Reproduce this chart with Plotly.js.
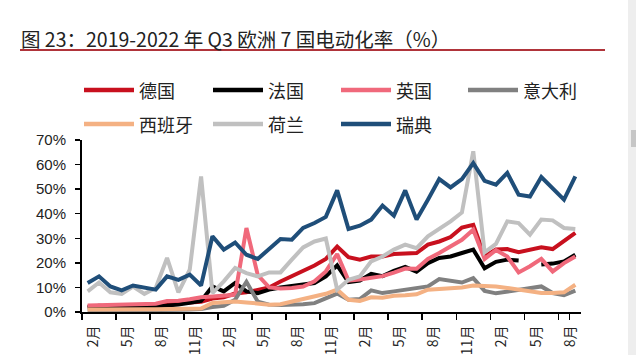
<!DOCTYPE html>
<html><head><meta charset="utf-8">
<script src="https://cdn.plot.ly/plotly-3.0.1.min.js"></script>
<style>html,body{margin:0;padding:0;background:#fff;overflow:hidden}</style>
</head><body><div id="chart" style="width:636px;height:355px"></div>
<script>
const months = [
 '2019-2月','2019-3月','2019-4月','2019-5月','2019-6月','2019-7月','2019-8月','2019-9月','2019-10月','2019-11月','2019-12月',
 '2020-1月','2020-2月','2020-3月','2020-4月','2020-5月','2020-6月','2020-7月','2020-8月','2020-9月','2020-10月','2020-11月','2020-12月',
 '2021-1月','2021-2月','2021-3月','2021-4月','2021-5月','2021-6月','2021-7月','2021-8月','2021-9月','2021-10月','2021-11月','2021-12月',
 '2022-1月','2022-2月','2022-3月','2022-4月','2022-5月','2022-6月','2022-7月','2022-8月','2022-9月'];
const tickMonths = ['2019-2月','2019-5月','2019-8月','2019-11月','2020-2月','2020-5月','2020-8月','2020-11月','2021-2月','2021-5月','2021-8月','2021-11月','2022-2月','2022-5月','2022-8月'];
const tickLabels = ['2月','5月','8月','11月','2月','5月','8月','11月','2月','5月','8月','11月','2月','5月','8月'];
const seriesNames = ['德国','法国','英国','意大利','西班牙','荷兰','瑞典'];

const germany = [2.2,2.4,2.5,2.6,2.7,2.8,2.9,3.3,3.5,3.8,4.2,5.5,6.0,7.5,8.0,9.0,10.0,12.4,14.5,16.7,18.9,21.6,26.6,22.3,21.3,22.6,22.6,23.6,24.0,24.0,27.4,28.7,30.5,34.4,35.5,22.6,25.4,25.6,24.3,25.1,26.3,25.6,28.7,32.2];
const france = [1.8,2.5,2.2,2.0,2.1,2.0,2.2,2.5,3.0,3.8,4.5,10.4,8.4,11.8,8.4,7.7,9.1,10.0,10.7,11.1,11.8,14.5,19.0,12.2,12.8,15.5,14.6,16.7,18.4,16.4,19.9,22.0,22.6,24.0,25.4,17.8,20.4,21.3,21.0,null,19.3,19.7,20.6,23.3];
const uk = [2.6,2.8,2.9,3.0,3.1,3.2,3.4,4.5,4.6,5.2,6.0,6.3,6.5,7.0,34.2,15.0,10.0,9.6,9.8,10.4,12.5,16.5,23.6,12.8,13.2,14.1,14.6,16.0,17.7,17.6,21.6,24.0,26.7,29.4,33.5,21.6,25.2,22.6,16.1,18.6,21.6,16.5,19.9,22.6];
const italy = [0.5,0.5,0.5,0.5,0.6,0.6,0.7,0.8,0.9,1.0,1.2,2.0,2.5,5.0,12.3,4.2,3.0,2.8,2.8,3.2,3.6,5.5,7.5,5.0,5.3,8.8,7.7,8.4,9.1,9.8,10.4,13.4,12.5,12.0,13.8,8.6,7.6,8.4,9.1,9.8,10.4,7.7,6.8,8.7];
const spain = [1.0,1.1,1.0,1.0,1.0,1.1,1.1,1.2,1.3,1.3,1.4,3.7,3.9,4.3,3.9,3.4,3.0,3.2,4.3,5.5,6.2,7.4,9.1,5.0,4.5,6.0,5.8,6.6,6.8,7.2,9.1,9.4,9.4,10.0,10.8,10.8,10.4,9.8,9.1,8.4,7.7,7.7,8.0,11.1];
const netherlands = [8.4,12.0,8.0,7.4,10.4,7.4,9.8,22.0,8.0,17.2,55.2,7.7,12.5,17.9,15.8,14.5,16.1,16.1,21.3,26.3,28.7,29.9,9.1,13.1,14.5,20.6,22.6,25.4,27.4,26.0,30.8,33.8,36.9,40.5,65.4,24.3,27.7,36.9,36.2,31.5,37.6,37.3,34.2,33.8];
const sweden = [11.8,14.5,10.4,8.8,10.8,10.0,9.1,14.5,13.1,15.2,10.8,30.8,25.4,28.3,23.3,21.6,25.6,29.7,29.4,34.2,36.2,38.7,49.5,33.8,35.1,37.6,43.3,39.2,49.5,37.6,45.7,54.1,50.7,54.1,60.6,53.4,51.8,56.6,47.7,47.0,54.9,50.1,45.7,55.2];

const seriesValues = [germany, france, uk, italy, spain, netherlands, sweden];
const colors = ['#c8101e','#000000','#f0697b','#808080','#f4b183','#c0c0c0','#1f4e79'];

const traces = seriesValues.map((vals, k) => ({
  type: 'scatter', mode: 'lines', name: seriesNames[k],
  x: months, y: vals, connectgaps: false,
  line: {color: colors[k], width: 4, shape: 'linear'},
  hoverinfo: 'skip'
}));

// geometry helpers for paper coords (plot area 82..581 x 140..312 px)
const L = 82, T = 140, W = 499, H = 172;
const px = v => (v - L) / W;
const py = v => (T + H - v) / H;

const legendPos = [[84,90],[213,90],[341,90],[468,90],[84,124],[213,124],[341,124]];
const shapes = [];
const annotations = [];
legendPos.forEach((p, k) => {
  shapes.push({type:'line', xref:'paper', yref:'paper', x0: px(p[0]), x1: px(p[0]+50), y0: py(p[1]), y1: py(p[1]),
    line:{color: colors[k], width: 4.5}});
  annotations.push({xref:'paper', yref:'paper', x: px(p[0]+53), y: py(p[1]), xanchor:'left', yanchor:'middle',
    text: seriesNames[k], showarrow:false, font:{family:'Noto Sans CJK SC', size:18, color:'#222'}});
});
// red rule under title
shapes.push({type:'line', xref:'paper', yref:'paper', x0: px(20), x1: px(605), y0: py(50), y1: py(50),
  line:{color:'#b0343a', width: 2}});
// right grey strip (page edge)
shapes.push({type:'rect', xref:'paper', yref:'paper', x0: px(628), x1: px(637), y0: py(0), y1: py(356),
  line:{width:0}, fillcolor:'#eeeeee', layer:'below'});
shapes.push({type:'rect', xref:'paper', yref:'paper', x0: px(631), x1: px(636), y0: py(130), y1: py(147),
  line:{width:0}, fillcolor:'#c6c6c6', layer:'below'});

const layout = {
  width: 636, height: 355,
  margin: {l: L, r: 636 - L - W, t: T, b: 355 - T - H, pad: 0},
  paper_bgcolor: '#ffffff', plot_bgcolor: 'rgba(0,0,0,0)',
  showlegend: false,
  title: {text: '图 23：2019-2022 年 Q3 欧洲 7 国电动化率（%）', xref:'container', yref:'container',
    x: 21/636, xanchor:'left', y: 1 - 40/355, yanchor:'middle',
    font: {family:'Noto Sans CJK SC', size: 19.5, color:'#222'}},
  xaxis: {
    type:'category', categoryorder:'array', categoryarray: months,
    range: [-0.5, months.length - 0.5],
    tickmode:'array', tickvals: tickMonths, ticktext: tickLabels,
    tickson:'boundaries', ticks:'outside', ticklen: 6, tickwidth: 1.5, tickcolor:'#000',
    tickangle: -90, ticklabelshift: 6, ticklabelstandoff: 6,
    showline:true, linecolor:'#000', linewidth: 2, showgrid:false, zeroline:false,
    automargin:false, fixedrange:true,
    tickfont:{family:'Noto Sans CJK SC', size: 14, color:'#222'}
  },
  yaxis: {
    range:[0,70], dtick:10, tick0:0, ticksuffix:'%',
    ticks:'outside', ticklen:5, tickwidth:1.5, tickcolor:'#000',
    showline:true, linecolor:'#000', linewidth:2, showgrid:false, zeroline:false,
    automargin:false, fixedrange:true, ticklabelstandoff: 6,
    tickfont:{family:'Liberation Sans, Arial, sans-serif', size: 15, color:'#222'}
  },
  shapes: shapes,
  annotations: annotations
};

Plotly.newPlot('chart', traces, layout, {displayModeBar:false, staticPlot:true});
</script>
</body></html>
